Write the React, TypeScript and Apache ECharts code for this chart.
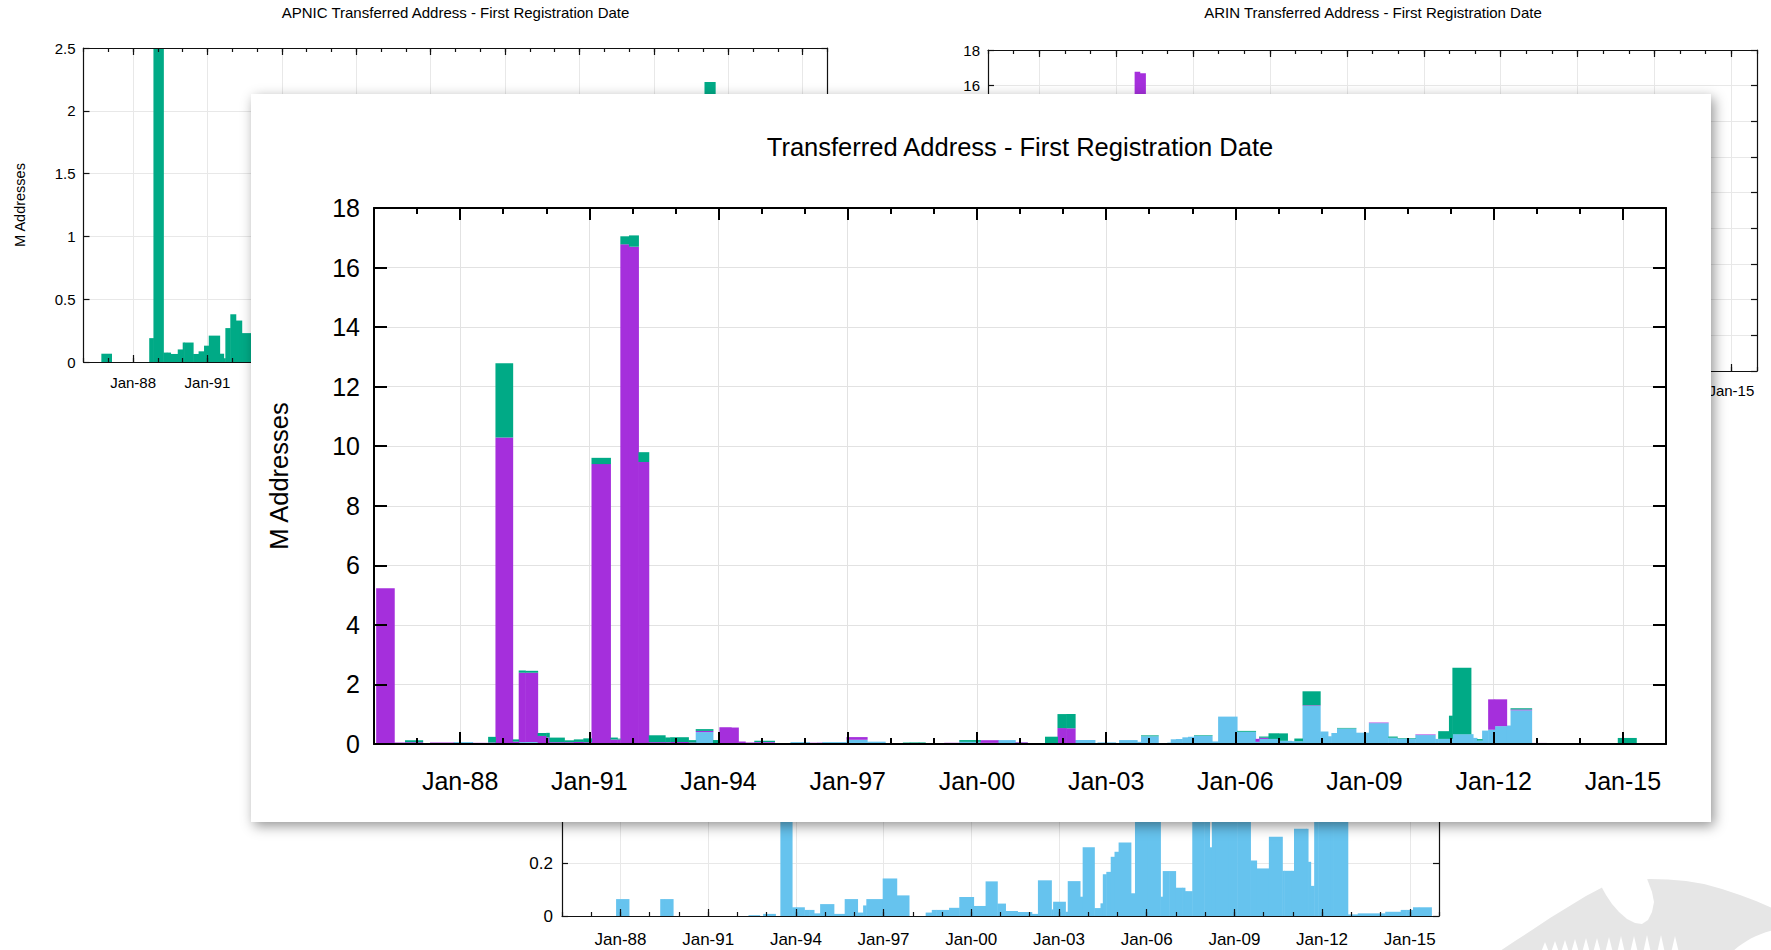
import React, { useEffect, useRef } from 'react';
import * as echarts from 'echarts';

// ---------- DATA (decimal years of first registration, values in M addresses) ----------
const binStart = [
  1986.05, 1986.47, 1986.72, 1987.13, 1987.30, 1987.85, 1988.29, 1988.65, 1988.82, 1989.22,
  1989.36, 1989.51, 1989.80, 1990.00, 1990.07, 1990.42, 1990.64, 1990.86, 1991.05, 1991.49,
  1991.65, 1991.72, 1991.92, 1992.14, 1992.38, 1992.76, 1992.88, 1993.30, 1993.47, 1993.87,
  1994.02, 1994.29, 1994.46, 1994.62, 1994.83, 1995.30, 1995.67, 1996.11, 1996.30, 1996.41,
  1996.97, 1997.45, 1998.28, 1998.44, 1998.65, 1998.80, 1999.24, 1999.59, 2000.08, 2000.49,
  2000.89, 2001.17, 2001.58, 2001.87, 2002.07, 2002.28, 2002.74, 2002.80, 2003.22, 2003.30,
  2003.72, 2003.81, 2004.21, 2004.42, 2004.50, 2004.62, 2004.77, 2004.90, 2005.04, 2005.46,
  2005.60, 2006.04, 2006.47, 2006.55, 2006.77, 2006.99, 2007.21, 2007.31, 2007.37, 2007.56,
  2007.97, 2008.15, 2008.23, 2008.36, 2008.80, 2009.10, 2009.55, 2009.76, 2010.18, 2010.64,
  2010.71, 2010.96, 2011.04, 2011.47, 2011.52, 2011.61, 2011.73, 2011.87, 2012.02, 2012.30,
  2012.39, 2012.88, 2013.22, 2014.16, 2014.69, 2014.88, 2015.11, 2015.31,
];
const binEnd = [
  1986.47, 1986.72, 1987.13, 1987.30, 1987.85, 1988.29, 1988.65, 1988.82, 1989.22, 1989.36,
  1989.51, 1989.80, 1990.00, 1990.07, 1990.42, 1990.64, 1990.86, 1991.05, 1991.49, 1991.65,
  1991.72, 1991.92, 1992.14, 1992.38, 1992.76, 1992.88, 1993.30, 1993.47, 1993.87, 1994.02,
  1994.29, 1994.46, 1994.62, 1994.83, 1995.30, 1995.67, 1996.11, 1996.30, 1996.41, 1996.97,
  1997.45, 1997.87, 1998.44, 1998.65, 1998.80, 1999.24, 1999.59, 2000.08, 2000.49, 2000.89,
  2001.17, 2001.58, 2001.87, 2002.07, 2002.28, 2002.74, 2002.80, 2003.22, 2003.30, 2003.72,
  2003.81, 2004.21, 2004.42, 2004.50, 2004.62, 2004.77, 2004.90, 2005.04, 2005.46, 2005.60,
  2006.04, 2006.47, 2006.55, 2006.77, 2006.99, 2007.21, 2007.31, 2007.37, 2007.56, 2007.97,
  2008.15, 2008.23, 2008.36, 2008.80, 2009.10, 2009.55, 2009.76, 2010.18, 2010.64, 2010.71,
  2010.96, 2011.04, 2011.47, 2011.52, 2011.61, 2011.73, 2011.87, 2012.02, 2012.30, 2012.39,
  2012.88, 2013.22, 2014.16, 2014.69, 2014.88, 2015.11, 2015.31, 2015.74,
];
// RIPE NCC (blue)
const ripeNcc = [
  0, 0, 0, 0, 0, 0.064, 0, 0, 0, 0,
  0.064, 0.064, 0, 0, 0, 0, 0, 0, 0, 0,
  0, 0, 0, 0, 0.003, 0, 0.008, 0, 0.40, 0.033,
  0.033, 0.023, 0.023, 0.01, 0.045, 0.008, 0.064, 0.013, 0.04, 0.064,
  0.142, 0.078, 0, 0.013, 0.023, 0.023, 0.031, 0.072, 0.038, 0.131,
  0.047, 0.019, 0.015, 0.015, 0.008, 0.135, 0.025, 0.054, 0.016, 0.132,
  0.073, 0.26, 0.03, 0.048, 0.158, 0.167, 0.224, 0.243, 0.278, 0.086,
  0.92, 0.41, 0.073, 0.17, 0.17, 0.107, 0.107, 0.094, 0.094, 1.28,
  0.42, 0.26, 0.37, 0.52, 0.38, 0.70, 0.21, 0.18, 0.30, 0.171,
  0.171, 0.171, 0.33, 0.33, 0.205, 0.114, 0.45, 0.48, 0.60, 0.62,
  1.13, 0.006, 0.01, 0.016, 0.023, 0.023, 0.033, 0.033,
];
// ARIN (purple)
const arin = [
  5.23, 0.05, 0.06, 0.02, 0.05, 0, 0.04, 0.05, 10.29, 0.08,
  2.33, 2.33, 0.27, 0.22, 0.06, 0.06, 0.07, 0.06, 9.40, 0.15,
  0.15, 16.78, 16.70, 9.47, 0.06, 0.06, 0.06, 0.05, 0.04, 0,
  0.53, 0.53, 0.06, 0.04, 0.02, 0.02, 0, 0.03, 0.01, 0,
  0.09, 0, 0, 0, 0, 0, 0.01, 0, 0.09, 0,
  0.02, 0, 0, 0.52, 0.52, 0, 0, 0, 0, 0,
  0, 0, 0, 0, 0, 0, 0, 0, 0, 0,
  0, 0, 0.1, 0.04, 0, 0, 0, 0, 0, 0.02,
  0, 0, 0, 0, 0, 0.02, 0, 0, 0.02, 0,
  0, 0, 0, 0, 0, 0, 0, 1.02, 0.90, 0,
  0.03, 0.03, 0, 0, 0, 0, 0, 0,
];
// APNIC (green)
const apnic = [
  0, 0, 0.066, 0, 0, 0, 0, 0.19, 2.5, 0.075,
  0.075, 0.064, 0.10, 0.155, 0.155, 0.064, 0.085, 0.13, 0.21, 0.066,
  0.03, 0.27, 0.38, 0.33, 0.23, 0.16, 0.16, 0.08, 0.06, 0.10,
  0, 0, 0, 0, 0.045, 0, 0, 0, 0, 0,
  0, 0, 0.05, 0.04, 0.03, 0, 0, 0.06, 0, 0,
  0, 0, 0.23, 0.47, 0.48, 0, 0, 0, 0, 0,
  0, 0.03, 0, 0, 0, 0, 0, 0, 0.02, 0,
  0, 0.03, 0, 0.04, 0.19, 0.25, 0, 0, 0.09, 0.47,
  0, 0, 0, 0.02, 0, 0, 0.04, 0.02, 0, 0,
  0.26, 0.78, 2.23, 0, 0, 0.05, 0, 0, 0, 0,
  0.04, 0, 0, 0, 0, 0.18, 0.17, 0,
];

const majorYears = [1988, 1991, 1994, 1997, 2000, 2003, 2006, 2009, 2012, 2015];
const tickLabels = ['Jan-88', 'Jan-91', 'Jan-94', 'Jan-97', 'Jan-00', 'Jan-03', 'Jan-06', 'Jan-09', 'Jan-12', 'Jan-15'];

const COLOR_RIPE = '#66c3ee';
const COLOR_ARIN = '#a52fdc';
const COLOR_APNIC = '#00aa86';
const FONT = '"Liberation Sans", Arial, Helvetica, sans-serif';

function segSeries(name: string, color: string, values: number[], bases: number[], xAxisIndex: number, yAxisIndex: number) {
  const data: number[][] = [];
  for (let i = 0; i < values.length; i++) {
    if (values[i] > 0) data.push([binStart[i], binEnd[i], bases[i], bases[i] + values[i]]);
  }
  return {
    type: 'custom',
    name,
    xAxisIndex,
    yAxisIndex,
    clip: true,
    silent: true,
    z: 2,
    dimensions: ['start', 'end', 'base', 'top'],
    encode: { x: [0, 1], y: [2, 3] },
    renderItem: (_p: any, api: any) => {
      const a = api.coord([api.value(0), api.value(3)]);
      const b = api.coord([api.value(1), api.value(2)]);
      return {
        type: 'rect',
        shape: { x: a[0], y: a[1], width: b[0] - a[0] + 0.5, height: b[1] - a[1] },
        style: { fill: color },
      };
    },
    data,
  };
}

function buildFrame(o: any, xAxes: any[], yAxes: any[]) {
  const line = { color: o.lineColor, width: o.lineW };
  const off = { show: false };
  const common = {
    type: 'value', gridIndex: o.grid, min: 1986, max: 2016,
    axisLine: { show: false, onZero: false }, axisTick: off, axisLabel: off, splitLine: off,
  };
  const labelYears = majorYears.filter((_y, i) => o.xShow(i));
  const xIdx = xAxes.length;
  ['bottom', 'top'].forEach((pos) => {
    xAxes.push({
      ...common, position: pos, interval: 1, z: 5,
      axisLine: { show: true, onZero: false, lineStyle: line },
      axisTick: { show: true, inside: true, length: o.minorLen, lineStyle: line },
    });
    xAxes.push({
      ...common, position: pos, z: 5,
      axisTick: { show: true, inside: true, length: o.majorLen, lineStyle: line, customValues: majorYears },
      axisLabel: pos === 'bottom'
        ? {
            show: true, customValues: labelYears, fontSize: o.font, color: '#000', margin: o.xLabelMargin,
            formatter: (v: number) => tickLabels[majorYears.indexOf(Math.round(v))] || '',
          }
        : off,
    });
  });
  xAxes.push({
    ...common, position: 'bottom', z: 0,
    axisTick: { show: false, customValues: majorYears },
    splitLine: { show: true, lineStyle: { color: o.gridColor, width: 1 } },
  });

  const yCommon = {
    type: 'value', gridIndex: o.grid, min: 0, max: o.yMax, interval: o.yInterval,
    axisLine: { show: false, onZero: false }, axisTick: off, axisLabel: off, splitLine: off,
  };
  const yIdx = yAxes.length;
  yAxes.push({
    ...yCommon, position: 'left', z: 5,
    axisLine: { show: true, onZero: false, lineStyle: line },
    axisTick: { show: true, inside: true, length: o.yTickLen, lineStyle: line },
    axisLabel: {
      show: true, fontSize: o.font, color: '#000', margin: o.yLabelMargin,
      formatter: (v: number) => (o.yShow(v) ? String(Math.round(v * 1000) / 1000) : ''),
    },
    name: o.yName,
    nameLocation: 'middle',
    nameGap: o.yNameGap,
    nameRotate: 90,
    nameTextStyle: { fontSize: o.yNameSize, color: '#000' },
  });
  yAxes.push({
    ...yCommon, position: 'right', z: 5,
    axisLine: { show: true, onZero: false, lineStyle: line },
    axisTick: { show: true, inside: true, length: o.yTickLen, lineStyle: line },
  });
  yAxes.push({
    ...yCommon, position: 'left', z: 0,
    splitLine: { show: true, lineStyle: { color: o.gridColor, width: 1 } },
  });
  return { x: xIdx, y: yIdx };
}

const zeros = ripeNcc.map(() => 0);

function mainOption() {
  const xAxes: any[] = [];
  const yAxes: any[] = [];
  const f = buildFrame({
    grid: 0, yMax: 18, yInterval: 2, font: 25, lineW: 2, lineColor: '#000', gridColor: '#e2e2e2',
    majorLen: 12, minorLen: 6, yTickLen: 13, xLabelMargin: 24, yLabelMargin: 14,
    xShow: () => true, yShow: () => true,
    yName: 'M Addresses', yNameGap: 82, yNameSize: 25.5,
  }, xAxes, yAxes);
  const arinBase = ripeNcc.slice();
  const apnicBase = ripeNcc.map((v, i) => v + arin[i]);
  return {
    animation: false,
    textStyle: { fontFamily: FONT },
    title: {
      text: 'Transferred Address - First Registration Date',
      left: 769, top: 40, textAlign: 'center', padding: 0,
      textStyle: { fontSize: 25.5, fontWeight: 'normal', color: '#000', fontFamily: FONT },
    },
    grid: [{ left: 123, top: 114, width: 1292, height: 536, containLabel: false, outerBoundsMode: 'none' }],
    xAxis: xAxes,
    yAxis: yAxes,
    series: [
      segSeries('RIPE NCC', COLOR_RIPE, ripeNcc, zeros, f.x, f.y),
      segSeries('ARIN', COLOR_ARIN, arin, arinBase, f.x, f.y),
      segSeries('APNIC', COLOR_APNIC, apnic, apnicBase, f.x, f.y),
    ],
  };
}

function backgroundOption() {
  const xAxes: any[] = [];
  const yAxes: any[] = [];
  const bgStyle = { font: 15, lineW: 1.2, lineColor: '#111', gridColor: '#e8e8e8', majorLen: 7, minorLen: 4, yTickLen: 6 };
  const fa = buildFrame({
    ...bgStyle, grid: 0, yMax: 2.5, yInterval: 0.5, xLabelMargin: 13, yLabelMargin: 8,
    xShow: (i: number) => i <= 1, yShow: () => true,
    yName: 'M Addresses', yNameGap: 56, yNameSize: 14.5,
  }, xAxes, yAxes);
  const fr = buildFrame({
    ...bgStyle, grid: 1, yMax: 18, yInterval: 2, xLabelMargin: 12, yLabelMargin: 8,
    xShow: (i: number) => i === 9, yShow: (v: number) => v >= 15,
  }, xAxes, yAxes);
  const fb = buildFrame({
    ...bgStyle, font: 17, grid: 2, yMax: 1.4, yInterval: 0.2, xLabelMargin: 15, yLabelMargin: 9,
    xShow: () => true, yShow: (v: number) => v < 0.3,
  }, xAxes, yAxes);

  // decorative watermark (bottom-right corner)
  const teeth = [
    [1545, 8], [1555, 9], [1565, 10], [1575, 11], [1586, 12], [1597, 12],
    [1609, 13], [1621, 14], [1634, 14], [1647, 15], [1661, 15], [1675, 14],
  ];
  return {
    animation: false,
    textStyle: { fontFamily: FONT },
    title: [
      { text: 'APNIC Transferred Address - First Registration Date', left: 455.5, top: 5, textAlign: 'center', padding: 0,
        textStyle: { fontSize: 15, fontWeight: 'normal', color: '#000', fontFamily: FONT } },
      { text: 'ARIN Transferred Address - First Registration Date', left: 1373, top: 5, textAlign: 'center', padding: 0,
        textStyle: { fontSize: 15, fontWeight: 'normal', color: '#000', fontFamily: FONT } },
    ],
    grid: [
      { left: 83.5, top: 48, width: 744, height: 314, containLabel: false, outerBoundsMode: 'none' },
      { left: 988, top: 50, width: 769, height: 321, containLabel: false, outerBoundsMode: 'none' },
      { left: 562, top: 546, width: 877, height: 370, containLabel: false, outerBoundsMode: 'none' },
    ],
    xAxis: xAxes,
    yAxis: yAxes,
    graphic: [
      {
        type: 'polygon', silent: true, z: 0,
        shape: {
          points: [
            [1500, 951], [1515, 941], [1532, 930], [1550, 918], [1568, 907], [1586, 896], [1603, 887],
            [1620, 882], [1635, 880], [1650, 879], [1668, 879.5], [1686, 881], [1704, 884], [1722, 889],
            [1740, 895], [1756, 901], [1772, 908], [1772, 951],
          ],
        },
        style: { fill: '#e6e6e6' },
      },
      {
        type: 'polygon', silent: true, z: 1,
        shape: {
          points: [
            [1601, 886], [1606, 895], [1612, 904], [1619, 912], [1627, 919], [1635, 923], [1642, 924],
            [1648, 920], [1652, 912], [1654, 902], [1652, 892], [1649, 884], [1646, 876], [1600, 876],
          ],
        },
        style: { fill: '#ffffff' },
      },
      { type: 'ellipse', silent: true, z: 1, shape: { cx: 1800, cy: 990, rx: 85, ry: 63 }, style: { fill: '#ffffff' } },
      ...teeth.map(([x, h]) => ({
        type: 'polygon', silent: true, z: 1,
        shape: { points: [[x - 3.5, 951], [x, 950 - h], [x + 3.5, 951]] },
        style: { fill: '#ffffff' },
      })),
    ],
    series: [
      segSeries('APNIC', COLOR_APNIC, apnic, zeros, fa.x, fa.y),
      segSeries('ARIN', COLOR_ARIN, arin, zeros, fr.x, fr.y),
      segSeries('RIPE NCC', COLOR_RIPE, ripeNcc, zeros, fb.x, fb.y),
    ],
  };
}

export default function App() {
  const bgRef = useRef<HTMLDivElement>(null);
  const mainRef = useRef<HTMLDivElement>(null);
  useEffect(() => {
    const bg = echarts.init(bgRef.current as HTMLDivElement, null, { renderer: 'svg' });
    const main = echarts.init(mainRef.current as HTMLDivElement, null, { renderer: 'svg' });
    bg.setOption(backgroundOption() as any);
    main.setOption(mainOption() as any);
    return () => {
      bg.dispose();
      main.dispose();
    };
  }, []);
  return (
    <div style={{ position: 'absolute', left: 0, top: 0, width: 1771, height: 950, overflow: 'hidden', background: '#fff' }}>
      <div ref={bgRef} style={{ position: 'absolute', left: 0, top: 0, width: 1771, height: 950 }} />
      <div
        style={{
          position: 'absolute', left: 251, top: 94, width: 1460, height: 728, background: '#fff',
          boxShadow: '3px 4px 12px rgba(0,0,0,0.42)',
        }}
      >
        <div ref={mainRef} style={{ width: 1460, height: 728 }} />
      </div>
    </div>
  );
}
